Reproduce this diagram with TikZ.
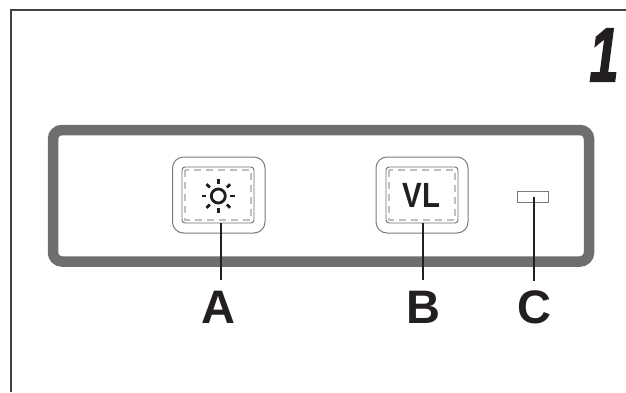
\documentclass[tikz,border=0pt]{standalone}
\usepackage{fontspec}
\setmainfont{Liberation Sans}
\newfontfamily\pagefont[UprightFont=* Bold Italic, FakeStretch=0.68, FakeBold=1.6]{Liberation Sans}
\newfontfamily\keyfont[UprightFont=* Bold, FakeStretch=0.84]{Liberation Sans}
\usepackage{tikz}
\definecolor{panelgray}{HTML}{6D6E70}
\definecolor{inkblack}{HTML}{231F20}
\tikzset{
	outerkey/.style={draw=inkblack!60, line width=1pt, rounded corners=11pt},
	innerkey/.style={draw=inkblack!65, line width=0.9pt, rounded corners=3pt},
	dashkey/.style={draw=black!25, line width=1.2pt, dash pattern=on 7pt off 5pt},
	leader/.style={draw=inkblack, line width=1.8pt},
	callout/.style={font=\fontsize{47}{47}\selectfont\bfseries, text=inkblack, inner sep=0pt},
	sunray/.style={draw=inkblack, line width=2.8pt},
}

\begin{document}
\begin{tikzpicture}[x=1pt, y=-1pt]
	\useasboundingbox (0, 0) rectangle (626, 392);

	\draw[inkblack!85, line width=2pt] (626, 10) -- (10.5, 10) -- (10.5, 392);
	\draw[panelgray, line width=10.5pt, rounded corners=9pt] (53, 130) rectangle (589, 261.5);

	\node[font=\fontsize{77}{77}\selectfont\pagefont, text=inkblack, inner sep=0pt] (page) at (604, 55) {1};

	% left key
	\draw[outerkey] (172.5, 157) rectangle (265, 233);
	\node[innerkey, minimum width=72pt, minimum height=56pt, inner sep=0pt] (keyA) at (218, 195) {};
	\draw[dashkey] (185, 170) rectangle (251, 220);
	\node[circle, draw=inkblack, line width=2.8pt, minimum size=14pt, inner sep=0pt] (sun) at (218.3, 196) {};
	\draw[sunray] (230.3, 196) -- (235, 196);
	\draw[sunray] (206.3, 196) -- (201.6, 196);
	\draw[sunray] (218.3, 184) -- (218.3, 179.3);
	\draw[sunray] (218.3, 208) -- (218.3, 212.7);
	\draw[sunray] (226.8, 187.5) -- (230.1, 184.2);
	\draw[sunray] (209.8, 187.5) -- (206.5, 184.2);
	\draw[sunray] (226.8, 204.5) -- (230.1, 207.8);
	\draw[sunray] (209.8, 204.5) -- (206.5, 207.8);

	% right key
	\draw[outerkey] (376, 157) rectangle (468, 233);
	\node[innerkey, minimum width=72pt, minimum height=56pt, inner sep=0pt] (keyB) at (422, 195) {};
	\draw[dashkey] (389, 170) rectangle (455, 220);
	\node[font=\fontsize{35}{35}\selectfont\keyfont, text=inkblack, inner sep=0pt] (vl) at (421.5, 195.5) {VL};

	% led
	\node[draw=inkblack!60, line width=1pt, minimum width=31pt, minimum height=11pt, inner sep=0pt] (led) at (532.5, 196.5) {};

	\node[callout] (labelA) at (218.5, 307) {A};
	\node[callout] (labelB) at (423.5, 307) {B};
	\node[callout] (labelC) at (534, 307) {C};

	\coordinate (tipA) at (221, 280);
	\coordinate (tipB) at (423, 280);
	\coordinate (tipC) at (534, 281);

	\draw[leader] (keyA.south -| tipA) -- (tipA);
	\draw[leader] (keyB.south -| tipB) -- (tipB);
	\draw[leader] (led.center -| tipC) -- (tipC);

\end{tikzpicture}
\end{document}
